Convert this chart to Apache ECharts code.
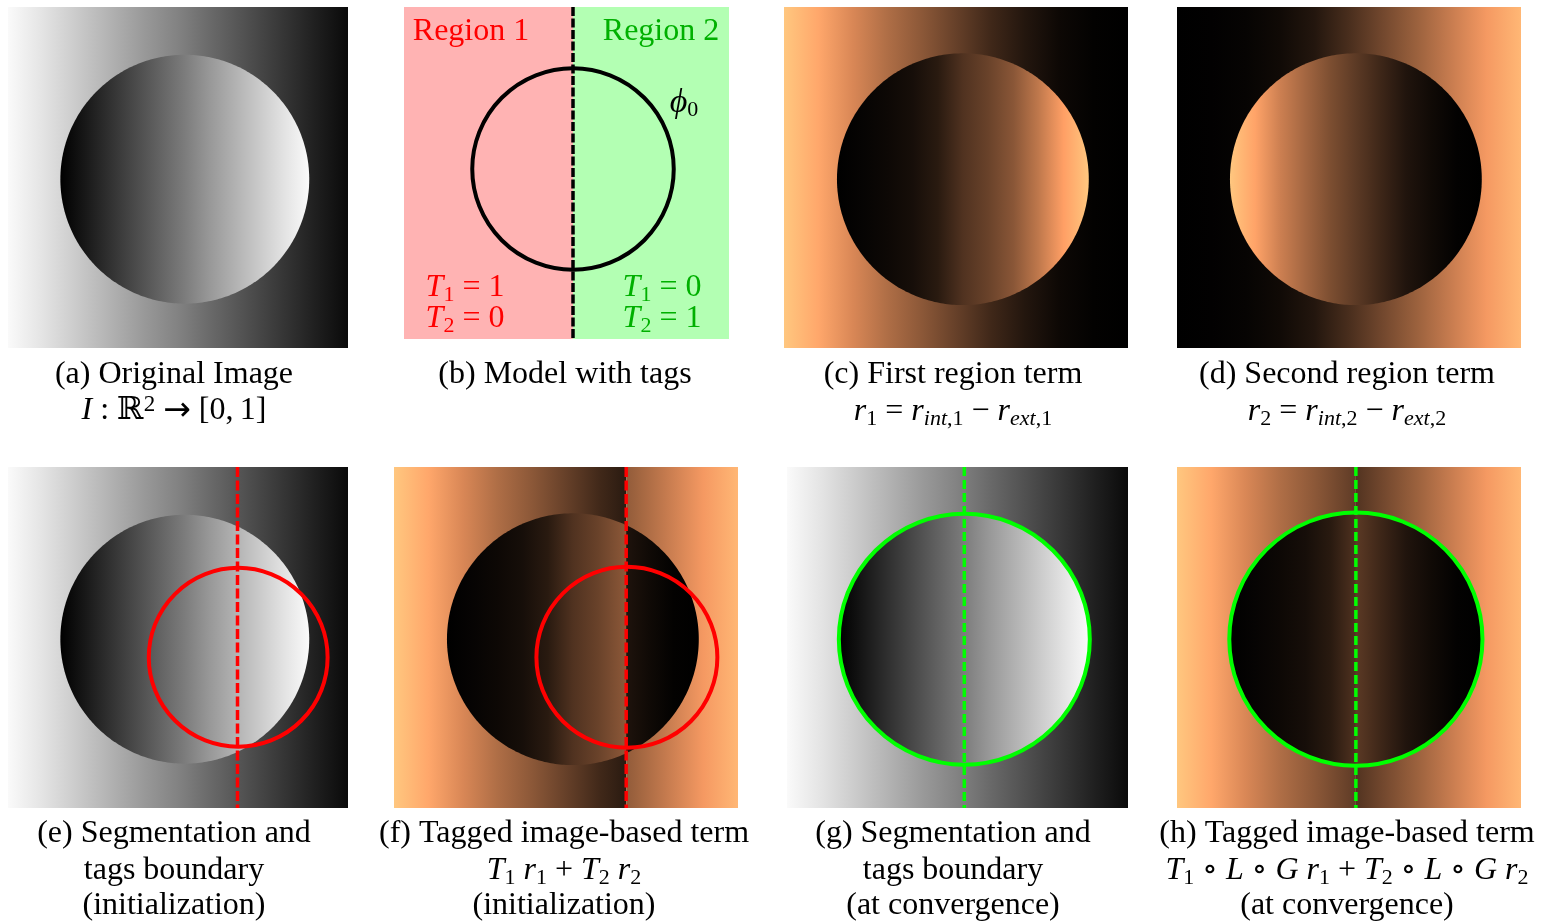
<!DOCTYPE html>
<html><head><meta charset="utf-8">
<script src="https://cdn.jsdelivr.net/npm/echarts/dist/echarts.min.js"></script>
<style>html,body{margin:0;padding:0;background:#fff}#c{width:1541px;height:924px}</style>
</head><body><div id="c"></div>
<script>
// ---------- data ----------
// sample positions across the image / across the disk (0 = left, 1 = right)
const profilePos = [0, 0.1, 0.2, 0.3, 0.4, 0.5, 0.6, 0.7, 0.8, 0.9, 1];
// grey levels (0-255) of the original image
const imageBackground = [250, 228, 203, 178, 153, 130, 104, 80, 56, 32, 10];
const imageDisk = [0, 24, 49, 74, 99, 124, 152, 177, 202, 227, 250];
// region terms, copper colour-map intensity (0-1)
const r1Background = [1.0, 0.84, 0.68, 0.55, 0.44, 0.32, 0.2, 0.11, 0.04, 0.01, 0];
const r1Disk = [0, 0.02, 0.04, 0.07, 0.13, 0.25, 0.33, 0.43, 0.6, 0.8, 1.0];
const r2Background = [0, 0.005, 0.02, 0.05, 0.11, 0.23, 0.36, 0.49, 0.63, 0.77, 0.92];
const r2Disk = [1.0, 0.82, 0.64, 0.51, 0.39, 0.29, 0.19, 0.1, 0.05, 0.01, 0];

// geometry in image units [cx, cy, r]
const disk = [0.52, 0.505, 0.366];
const initContour = [0.677, 0.558, 0.263];
const finalContour = [0.52, 0.505, 0.368];
const initTagSplit = 0.675;
const finalTagSplit = 0.52;
const modelSplit = 0.52;
const modelContour = [0.52, 0.488, 0.31];

// captions
const captions = [
  {x: 174, lines: [['(a) Original Image', 375], ['{i|I} : ℝ{sup|2} {ar|→} [0,\u20091]', 411]]},
  {x: 565, lines: [['(b) Model with tags', 375]]},
  {x: 953, lines: [['(c) First region term', 375], ['{i|r}{s|1} = {i|r}{si|int}{s|,1} − {i|r}{si|ext}{s|,1}', 412]]},
  {x: 1347, lines: [['(d) Second region term', 375], ['{i|r}{s|2} = {i|r}{si|int}{s|,2} − {i|r}{si|ext}{s|,2}', 412]]},
  {x: 174, lines: [['(e) Segmentation and', 834], ['tags boundary', 871], ['(initialization)', 906]]},
  {x: 564, lines: [['(f) Tagged image-based term', 834], ['{i|T}{s|1} {i|r}{s|1} + {i|T}{s|2} {i|r}{s|2}', 871], ['(initialization)', 906]]},
  {x: 953, lines: [['(g) Segmentation and', 834], ['tags boundary', 871], ['(at convergence)', 906]]},
  {x: 1347, lines: [['(h) Tagged image-based term', 834], ['{i|T}{s|1} ∘ {i|L} ∘ {i|G} {i|r}{s|1} + {i|T}{s|2} ∘ {i|L} ∘ {i|G} {i|r}{s|2}', 871], ['(at convergence)', 906]]}
];
const modelLabels = [
  ['Region 1', 471, 32, '#ff0000'], ['Region 2', 661, 32, '#00b000'],
  ['{phi|ϕ}{s|0}', 684, 103, '#000000'],
  ['{i|T}{s|1} = 1', 465, 288, '#ff0000'], ['{i|T}{s|2} = 0', 465, 319, '#ff0000'],
  ['{i|T}{s|1} = 0', 662, 288, '#00b000'], ['{i|T}{s|2} = 1', 662, 319, '#00b000']
];

// ---------- rendering ----------
const profiles = [
  {vals: imageBackground, map: 'gray'}, {vals: imageDisk, map: 'gray'},
  {vals: r1Background, map: 'copper'}, {vals: r1Disk, map: 'copper'},
  {vals: r2Background, map: 'copper'}, {vals: r2Disk, map: 'copper'}
];
function toColor(v, map) {
  if (map === 'gray') { const g = Math.round(v); return 'rgb(' + g + ',' + g + ',' + g + ')'; }
  const r = Math.min(1, 1.25 * v) * 255, g = 0.7812 * v * 255, b = 0.4975 * v * 255;
  return 'rgb(' + Math.round(r) + ',' + Math.round(g) + ',' + Math.round(b) + ')';
}
function stops(p) {
  const pr = profiles[p];
  return profilePos.map((o, i) => ({offset: o, color: toColor(pr.vals[i], pr.map)}));
}
const modelColors = ['#ffb3b3', '#b3ffb3'];

function renderBand(params, api) {
  const x0 = api.value(0), x1 = api.value(1), p = api.value(2);
  const tl = api.coord([x0, 0]), br = api.coord([x1, 1]);
  const L = api.coord([0, 0]), R = api.coord([1, 0]);
  return {type: 'rect', shape: {x: tl[0], y: tl[1], width: br[0] - tl[0], height: br[1] - tl[1]},
    style: {fill: new echarts.graphic.LinearGradient(L[0], 0, R[0], 0, stops(p), true)}};
}
function renderRegion(params, api) {
  const tl = api.coord([api.value(0), 0]), br = api.coord([api.value(1), 1]);
  return {type: 'rect', shape: {x: tl[0], y: tl[1], width: br[0] - tl[0], height: br[1] - tl[1]},
    style: {fill: modelColors[api.value(2)]}};
}
function renderDisk(params, api) {
  const c = api.coord([api.value(0), api.value(1)]);
  const rx = api.size([api.value(2), 0])[0];
  const xmin = api.coord([api.value(3), 0])[0], xmax = api.coord([api.value(4), 0])[0];
  const p = api.value(5);
  const pts = [];
  const N = 360;
  for (let i = 0; i < N; i++) {
    const a = 2 * Math.PI * i / N;
    let x = c[0] + rx * Math.cos(a);
    const y = c[1] + rx * Math.sin(a);
    x = Math.min(Math.max(x, xmin), xmax);
    pts.push([x, y]);
  }
  return {type: 'polygon', shape: {points: pts},
    style: {fill: new echarts.graphic.LinearGradient(c[0] - rx, 0, c[0] + rx, 0, stops(p), true)}};
}
function contourRenderer(color, width) {
  return function (params, api) {
    const c = api.coord([api.value(0), api.value(1)]);
    const r = api.size([api.value(2), 0])[0];
    return {type: 'circle', shape: {cx: c[0], cy: c[1], r: r},
      style: {fill: 'none', stroke: color, lineWidth: width}};
  };
}

const gridBoxes = [
  [8, 7, 340, 341], [404, 7, 325, 332], [784, 7, 344, 341], [1177, 7, 344, 341],
  [8, 467, 340, 341], [394, 467, 344, 341], [787, 467, 341, 341], [1177, 467, 344, 341]
];
const grid = gridBoxes.map(b => ({left: b[0], top: b[1], width: b[2], height: b[3], containLabel: false}));
const xAxis = gridBoxes.map((b, i) => ({type: 'value', gridIndex: i, min: 0, max: 1, show: false}));
const yAxis = gridBoxes.map((b, i) => ({type: 'value', gridIndex: i, min: 0, max: 1, inverse: true, show: false}));

const series = [];
function add(gi, s) { s.xAxisIndex = gi; s.yAxisIndex = gi; s.silent = true; series.push(s); }
function band(gi, data) { add(gi, {type: 'custom', renderItem: renderBand, data: data, clip: false}); }
function diskS(gi, data) { add(gi, {type: 'custom', renderItem: renderDisk, data: data, clip: false}); }
function contour(gi, c, color, w) { add(gi, {type: 'custom', renderItem: contourRenderer(color, w), data: [c], clip: false}); }
function tagLine(gi, xs, color, w, dash) {
  add(gi, {type: 'line', data: [[xs, 0], [xs, 1]], symbol: 'none',
    lineStyle: {color: color, width: w, type: dash}, z: 5});
}
const D = disk;
// (a)
band(0, [[0, 1, 0]]); diskS(0, [[D[0], D[1], D[2], 0, 1, 1]]);
// (b)
add(1, {type: 'custom', renderItem: renderRegion, data: [[0, modelSplit, 0], [modelSplit, 1, 1]]});
contour(1, modelContour, '#000', 4);
tagLine(1, modelSplit, '#000', 3.5, [9, 2.5]);
// (c)
band(2, [[0, 1, 2]]); diskS(2, [[D[0], D[1], D[2], 0, 1, 3]]);
// (d)
band(3, [[0, 1, 4]]); diskS(3, [[D[0], D[1], D[2], 0, 1, 5]]);
// (e)
band(4, [[0, 1, 0]]); diskS(4, [[D[0], D[1], D[2], 0, 1, 1]]);
contour(4, initContour, '#ff0000', 4);
tagLine(4, initTagSplit, '#ff0000', 3.5, [10, 3.5]);
// (f)
band(5, [[0, initTagSplit, 2], [initTagSplit, 1, 4]]);
diskS(5, [[D[0], D[1], D[2], 0, initTagSplit, 3], [D[0], D[1], D[2], initTagSplit, 1, 5]]);
contour(5, initContour, '#ff0000', 4);
tagLine(5, initTagSplit, '#ff0000', 3.5, [10, 3.5]);
// (g)
band(6, [[0, 1, 0]]); diskS(6, [[D[0], D[1], D[2], 0, 1, 1]]);
contour(6, finalContour, '#00ff00', 4);
tagLine(6, finalTagSplit, '#00ff00', 3.5, [9, 4]);
// (h)
band(7, [[0, finalTagSplit, 2], [finalTagSplit, 1, 4]]);
diskS(7, [[D[0], D[1], D[2], 0, finalTagSplit, 3], [D[0], D[1], D[2], finalTagSplit, 1, 5]]);
contour(7, finalContour, '#00ff00', 4);
tagLine(7, finalTagSplit, '#00ff00', 3.5, [9, 4]);

// ---------- text ----------
const SERIF = '"Liberation Serif", "DejaVu Serif", serif';
const FS = 32, SUB = 22;
function fnt(size, italic, fam) { return (italic ? 'italic ' : '') + size + 'px ' + (fam || SERIF); }
function richFor(color) {
  return {
    i: {font: fnt(FS, true), fontSize: FS, fontStyle: 'italic', fontFamily: SERIF, lineHeight: 36, fill: color},
    phi: {font: fnt(34, true), fontSize: 34, fontStyle: 'italic', fontFamily: SERIF, lineHeight: 36, fill: color},
    ar: {font: fnt(33, false, '"DejaVu Sans"'), fontSize: 33, fontFamily: '"DejaVu Sans"', lineHeight: 36, fill: color},
    s: {font: fnt(SUB, false), fontSize: SUB, fontFamily: SERIF, lineHeight: 22, verticalAlign: 'bottom', fill: color},
    sup: {font: fnt(23, false), fontSize: 23, fontFamily: SERIF, lineHeight: 24, verticalAlign: 'top', fill: color},
    si: {font: fnt(SUB, true), fontSize: SUB, fontStyle: 'italic', fontFamily: SERIF, lineHeight: 22, verticalAlign: 'bottom', fill: color}
  };
}
function textEl(str, x, y, color) {
  return {type: 'text', x: x, y: y, silent: true, z: 100,
    style: {text: str, fill: color, font: fnt(FS, false), fontSize: FS, fontFamily: SERIF, lineHeight: 36,
      align: 'center', verticalAlign: 'middle', textAlign: 'center', textVerticalAlign: 'middle', rich: richFor(color)}};
}
const graphic = [];
captions.forEach(c => c.lines.forEach(l => graphic.push(textEl(l[0], c.x, l[1], '#000'))));
modelLabels.forEach(l => graphic.push(textEl(l[0], l[1], l[2], l[3])));

const chart = echarts.init(document.getElementById('c'), null, {renderer: 'canvas'});
chart.setOption({animation: false, backgroundColor: '#fff', grid, xAxis, yAxis, series, graphic});
</script></body></html>
